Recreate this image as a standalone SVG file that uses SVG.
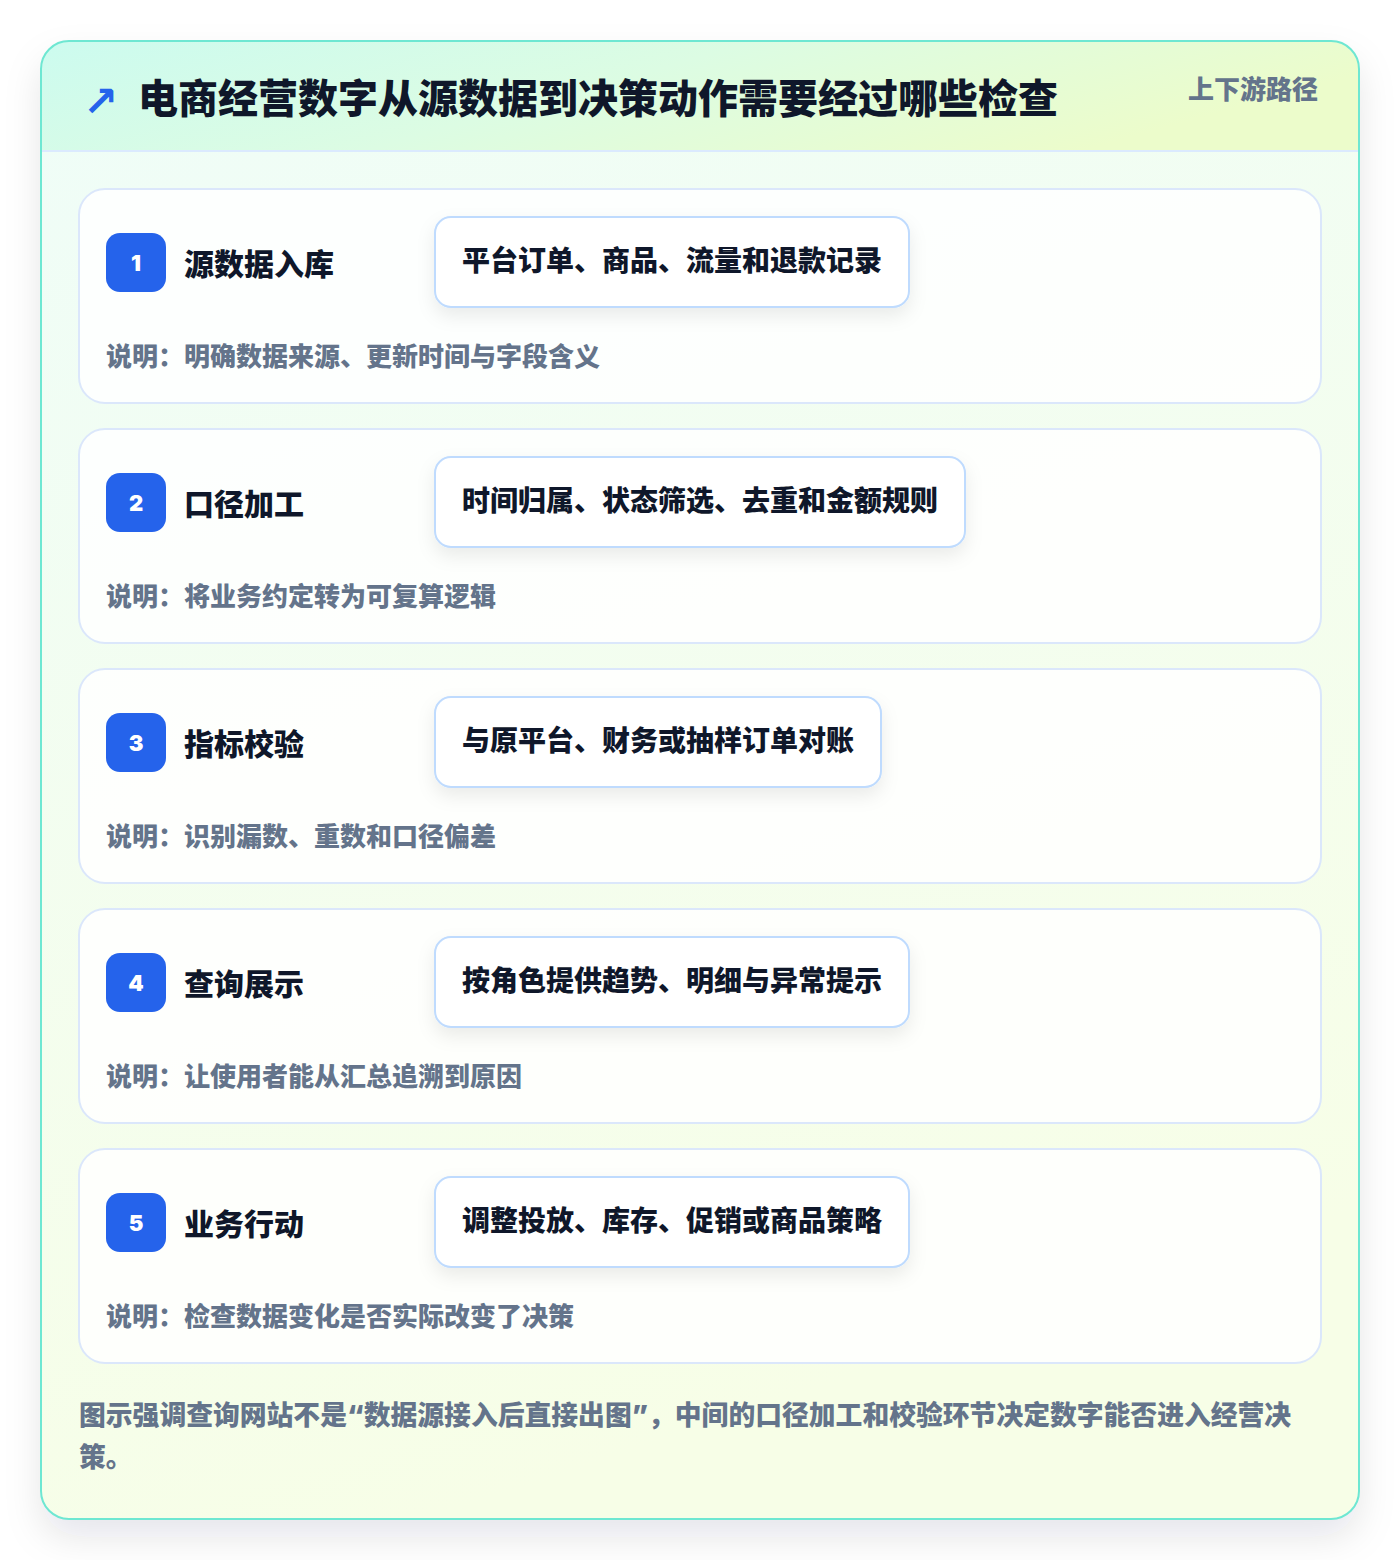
<svg xmlns="http://www.w3.org/2000/svg" width="1400" height="1560" viewBox="0 0 1400 1560">
<defs>
<linearGradient id="hdr" x1="0" y1="0" x2="1" y2="0.3">
<stop offset="0" stop-color="#ccfbef"/>
<stop offset="0.5" stop-color="#dcfce3"/>
<stop offset="1" stop-color="#ecfccb"/>
</linearGradient>
<linearGradient id="body" x1="0" y1="0" x2="0.3" y2="1">
<stop offset="0" stop-color="#effdf8"/>
<stop offset="1" stop-color="#f7fee7"/>
</linearGradient>
<clipPath id="outerClip"><rect x="41" y="41" width="1318" height="1478" rx="28"/></clipPath>
<filter id="outerShadow" x="-10%" y="-10%" width="120%" height="125%">
<feDropShadow dx="0" dy="18" stdDeviation="18" flood-color="#0f172a" flood-opacity="0.10"/>
</filter>
<filter id="pillShadow" x="-20%" y="-40%" width="140%" height="190%">
<feDropShadow dx="0" dy="8" stdDeviation="9" flood-color="#0f172a" flood-opacity="0.08"/>
</filter>
</defs>
<style>
.cjk{font-family:"Noto Sans CJK SC","Noto Sans",sans-serif;font-weight:900}
.lat{font-family:"Inter","Liberation Sans",sans-serif;font-weight:900}
.card{fill:#ffffff;fill-opacity:0.85;stroke:#dbe7fb;stroke-width:2}
.badge{fill:#2563eb}
.num{font-family:"Inter","DejaVu Sans",sans-serif;font-weight:900;font-size:22px;fill:#ffffff}
.ttl{font-size:30px;fill:#0f172a}
.pill{fill:#ffffff;stroke:#bfdbfe;stroke-width:2}
.ptxt{font-size:28px;fill:#0f172a}
.desc{font-size:26px;fill:#64748b}
.foot{font-size:26.8px;fill:#64748b}
</style>
<rect width="1400" height="1560" fill="#ffffff"/>
<g id="frame">
<rect x="41" y="41" width="1318" height="1478" rx="28" fill="url(#body)" filter="url(#outerShadow)"/>
<g clip-path="url(#outerClip)">
<rect x="41" y="41" width="1318" height="110" fill="url(#hdr)"/>
<line x1="41" y1="151" x2="1359" y2="151" stroke="#dbeafe" stroke-width="2"/>
</g>
<rect x="41" y="41" width="1318" height="1478" rx="28" fill="none" stroke="#6ee7d2" stroke-width="2"/>
</g>
<g id="header">
<text x="83" y="116" font-family="DejaVu Sans,sans-serif" font-weight="bold" font-size="42" fill="#2563eb">↗</text>
<text x="138" y="113" class="cjk" font-size="40" fill="#0f172a">电商经营数字从源数据到决策动作需要经过哪些检查</text>
<text x="1318" y="99" class="cjk" font-size="26" fill="#64748b" text-anchor="end">上下游路径</text>
</g>
<g id="step1">
<rect class="card" x="79" y="189" width="1242" height="214" rx="26"/>
<rect class="badge" x="106" y="233" width="60" height="59" rx="14"/>
<text class="num" x="136" y="271" text-anchor="middle">1</text>
<text class="cjk ttl" x="184" y="275">源数据入库</text>
<rect class="pill" x="435" y="217" width="474" height="90" rx="16" filter="url(#pillShadow)"/>
<text class="cjk ptxt" x="462" y="271">平台订单、商品、流量和退款记录</text>
<text class="cjk desc" x="106" y="366">说明：明确数据来源、更新时间与字段含义</text>
</g>
<g id="step2">
<rect class="card" x="79" y="429" width="1242" height="214" rx="26"/>
<rect class="badge" x="106" y="473" width="60" height="59" rx="14"/>
<text class="num" x="136" y="511" text-anchor="middle">2</text>
<text class="cjk ttl" x="184" y="515">口径加工</text>
<rect class="pill" x="435" y="457" width="530" height="90" rx="16" filter="url(#pillShadow)"/>
<text class="cjk ptxt" x="462" y="511">时间归属、状态筛选、去重和金额规则</text>
<text class="cjk desc" x="106" y="606">说明：将业务约定转为可复算逻辑</text>
</g>
<g id="step3">
<rect class="card" x="79" y="669" width="1242" height="214" rx="26"/>
<rect class="badge" x="106" y="713" width="60" height="59" rx="14"/>
<text class="num" x="136" y="751" text-anchor="middle">3</text>
<text class="cjk ttl" x="184" y="755">指标校验</text>
<rect class="pill" x="435" y="697" width="446" height="90" rx="16" filter="url(#pillShadow)"/>
<text class="cjk ptxt" x="462" y="751">与原平台、财务或抽样订单对账</text>
<text class="cjk desc" x="106" y="846">说明：识别漏数、重数和口径偏差</text>
</g>
<g id="step4">
<rect class="card" x="79" y="909" width="1242" height="214" rx="26"/>
<rect class="badge" x="106" y="953" width="60" height="59" rx="14"/>
<text class="num" x="136" y="991" text-anchor="middle">4</text>
<text class="cjk ttl" x="184" y="995">查询展示</text>
<rect class="pill" x="435" y="937" width="474" height="90" rx="16" filter="url(#pillShadow)"/>
<text class="cjk ptxt" x="462" y="991">按角色提供趋势、明细与异常提示</text>
<text class="cjk desc" x="106" y="1086">说明：让使用者能从汇总追溯到原因</text>
</g>
<g id="step5">
<rect class="card" x="79" y="1149" width="1242" height="214" rx="26"/>
<rect class="badge" x="106" y="1193" width="60" height="59" rx="14"/>
<text class="num" x="136" y="1231" text-anchor="middle">5</text>
<text class="cjk ttl" x="184" y="1235">业务行动</text>
<rect class="pill" x="435" y="1177" width="474" height="90" rx="16" filter="url(#pillShadow)"/>
<text class="cjk ptxt" x="462" y="1231">调整投放、库存、促销或商品策略</text>
<text class="cjk desc" x="106" y="1326">说明：检查数据变化是否实际改变了决策</text>
</g>
<g id="connectors"></g>
<g id="footer">
<text class="cjk foot" x="79" y="1425">图示强调查询网站不是<tspan class="lat">“</tspan>数据源接入后直接出图<tspan class="lat">”</tspan>，中间的口径加工和校验环节决定数字能否进入经营决</text>
<text class="cjk foot" x="79" y="1467">策。</text>
</g>
</svg>
